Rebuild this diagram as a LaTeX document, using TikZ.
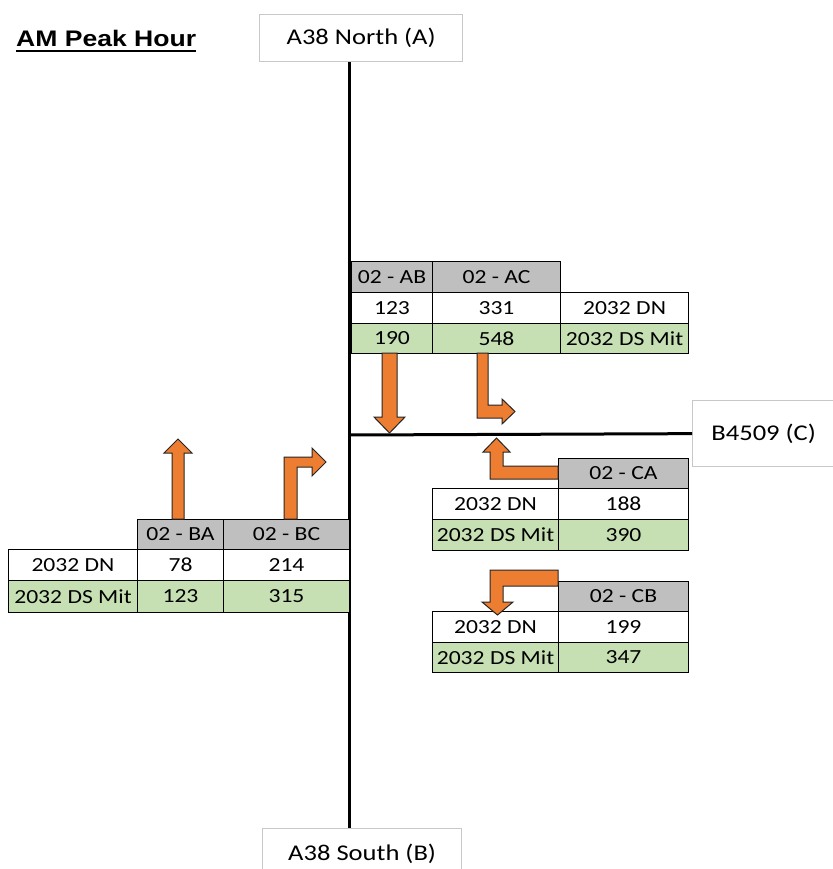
\documentclass[tikz,border=0pt]{standalone}
\usepackage{fontspec}
\setmainfont{Carlito}[FakeStretch=1.18]
\newfontfamily\titlefont{Liberation Sans}[FakeStretch=1.18]
\definecolor{hdrgray}{HTML}{BFBFBF}
\definecolor{mitgreen}{HTML}{C6E0B4}
\definecolor{arrowor}{HTML}{ED7D31}
\definecolor{boxline}{HTML}{C8C8C8}
\newcommand\tc[7]{\node[#6, minimum width={(#4-#2)*1pt}, minimum height={(#5-#3)*1pt}] (#1) at (#2,#3) {#7};}
\begin{document}
\begin{tikzpicture}[x=1pt,y=-1pt,
  road/.style={line width=3pt},
  roadlabel/.style={draw=boxline, line width=1.3pt, fill=white, inner sep=0pt, anchor=north west, font=\fontsize{22.5}{26}\selectfont},
  cellbox/.style={draw=black, line width=1pt, inner sep=0pt, anchor=north west, font=\fontsize{20}{23}\selectfont},
  hdr/.style={cellbox, fill=hdrgray},
  val/.style={cellbox, fill=white},
  mit/.style={cellbox, fill=mitgreen},
  flow/.style={fill=arrowor, draw=black!85, line width=1pt, line join=miter}]
\useasboundingbox (0,0) rectangle (832,869);

% title
\node[font=\fontsize{22.5}{26}\selectfont\titlefont\bfseries, anchor=base west, inner sep=0pt] (title) at (16,47) {AM Peak Hour};
\draw[line width=2pt] ([yshift=-4pt]title.base west) -- ([yshift=-4pt]title.base east);

% road labels
\node[roadlabel, minimum width=203pt, minimum height=47pt] (north) at (259,14) {A38 North (A)};
\node[roadlabel, minimum width=199pt, minimum height=50pt] (south) at (262,828) {A38 South (B)};
\node[roadlabel, minimum width=150pt, minimum height=66pt] (east) at (692,400) {\hspace*{-8pt}B4509 (C)};

% roads
\coordinate (junc) at (349,435);
\draw[road] (north.south -| junc) -- (south.north -| junc);
\draw[road] (junc) -- (east.west);

% table AB / AC
\tc{abh}{351}{261}{432}{292}{hdr}{02 - AB}
\tc{ach}{432}{261}{560}{292}{hdr}{02 - AC}
\tc{abdn}{351}{292}{432}{323}{val}{123}
\tc{acdn}{432}{292}{560}{323}{val}{331}
\tc{adn}{560}{292}{688}{323}{val}{2032 DN}
\tc{abmit}{351}{323}{432}{353}{mit}{190}
\tc{acmit}{432}{323}{560}{353}{mit}{548}
\tc{amit}{560}{323}{688}{353}{mit}{2032 DS Mit}

% table CA
\tc{cah}{558}{458}{688}{488}{hdr}{02 - CA}
\tc{cadnl}{432}{488}{558}{519}{val}{2032 DN}
\tc{cadn}{558}{488}{688}{519}{val}{188}
\tc{camitl}{432}{519}{558}{550}{mit}{2032 DS Mit}
\tc{camit}{558}{519}{688}{550}{mit}{390}

% table CB
\tc{cbh}{558}{581}{688}{611}{hdr}{02 - CB}
\tc{cbdnl}{432}{611}{558}{642}{val}{2032 DN}
\tc{cbdn}{558}{611}{688}{642}{val}{199}
\tc{cbmitl}{432}{642}{558}{672}{mit}{2032 DS Mit}
\tc{cbmit}{558}{642}{688}{672}{mit}{347}

% table BA / BC
\tc{bah}{137}{519}{223}{549}{hdr}{02 - BA}
\tc{bch}{223}{519}{349}{549}{hdr}{02 - BC}
\tc{bdnl}{8}{549}{137}{580}{val}{2032 DN}
\tc{badn}{137}{549}{223}{580}{val}{78}
\tc{bcdn}{223}{549}{349}{580}{val}{214}
\tc{bmitl}{8}{580}{137}{612}{mit}{2032 DS Mit}
\tc{bamit}{137}{580}{223}{612}{mit}{123}
\tc{bcmit}{223}{580}{349}{612}{mit}{315}

% turning arrows
\draw[flow] (382,353) -- (397,353) -- (397,417) -- (405,417) -- (389.5,433) -- (374,417) -- (382,417) -- cycle;
\draw[flow] (477,353) -- (488,353) -- (488,405) -- (502,405) -- (502,399) -- (515,411.5) -- (502,424) -- (502,418) -- (477,418) -- cycle;
\draw[flow] (558,466) -- (503,466) -- (503,452) -- (510,452) -- (496.5,438) -- (483,452) -- (490,452) -- (490,479) -- (558,479) -- cycle;
\draw[flow] (558,570) -- (490,570) -- (490,602) -- (482,602) -- (497.5,615) -- (513,602) -- (503,602) -- (503,586) -- (558,586) -- cycle;
\draw[flow] (172,519) -- (172,453) -- (164,453) -- (178,439) -- (192,453) -- (184,453) -- (184,519) -- cycle;
\draw[flow] (284,519) -- (284,457) -- (312,457) -- (312,448) -- (326,462) -- (312,476) -- (312,467) -- (297,467) -- (297,519) -- cycle;
\end{tikzpicture}
\end{document}
